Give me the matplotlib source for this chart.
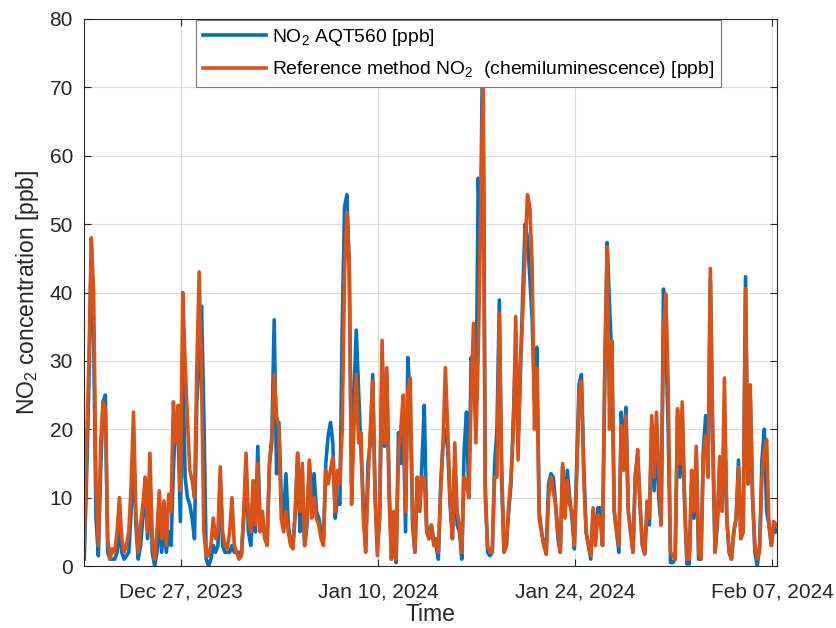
import matplotlib
matplotlib.use("Agg")
from matplotlib import pyplot as plt
import matplotlib.dates as mdates
import pandas as pd

# 4-hourly values
ref_no2 = [3, 18, 30, 48, 40, 12, 3, 18, 24, 23,
           4, 1, 2.5, 2, 5, 10, 4, 2, 3, 5,
           12, 22.5, 8, 2, 6, 9, 13, 5, 16.5, 4,
           1, 5, 11, 4, 9.5, 3, 10.5, 8, 24, 18,
           23.5, 11, 40, 30, 21.5, 14, 12.5, 10, 29, 43,
           28, 5, 1.5, 1.5, 3, 7, 4, 5, 14.5, 5,
           3, 2.5, 5, 10, 3, 2, 1, 1.5, 8, 16.5,
           7, 5, 12.5, 6, 15, 5, 8, 4, 3, 15,
           18, 28, 22, 20, 7, 5, 8, 5, 3, 2.5,
           8, 16.5, 8, 15, 3, 7, 15.5, 7, 10, 7,
           6, 4, 3, 14, 12, 14, 16, 8, 14, 12,
           20, 43, 51.7, 44.5, 9, 20, 28, 18, 19.5, 7,
           2, 12, 20, 27, 10, 1.5, 8, 33, 18, 29,
           10, 1, 8, 1, 17, 20, 25, 8, 26, 27.5,
           8, 2, 13, 8, 13, 13, 5, 4, 6, 3,
           4, 2, 11, 18, 29, 20, 10, 4, 18, 8,
           6, 2, 13, 12, 10, 25, 35.5, 18, 31, 50,
           70, 10, 3, 2, 2, 13, 13, 37, 15, 2,
           3, 9, 13, 20, 36.5, 15.5, 30, 37, 46, 54.3,
           52.5, 44, 20, 29, 7, 5, 3, 1.7, 10, 13,
           11, 9, 5, 2, 15, 7, 12.5, 9, 8, 3,
           13, 25, 27, 13, 5, 3, 1.5, 8.5, 3, 7.5,
           7, 3, 30, 46.7, 20, 33, 8, 5, 3, 20.5,
           14, 22, 8, 5, 2, 13, 17, 9, 3, 1.7,
           9.5, 7, 22, 13, 22.5, 14, 6, 34, 39.8, 27,
           2, 1.5, 1, 23, 15, 24, 10, 1, 1, 14,
           8, 17.5, 2, 1, 16, 19, 13, 43.5, 20, 2,
           7, 16, 8, 27.5, 7, 2, 1, 5, 7, 14.5,
           4, 5, 40.6, 12, 26.5, 10, 3, 1, 2, 13,
           17, 18.5, 6, 3, 6.5, 6]

aqt_no2 = [1, 13, 27, 47, 33, 7, 1.5, 14, 24, 25,
           2, 1, 1, 1, 2, 6, 2, 1, 1.5, 2,
           8, 18, 6, 1, 3, 7, 12, 4, 13, 2,
           0, 2, 7, 2, 6, 2, 5, 3, 14, 22,
           20, 6.5, 30, 13, 10, 9, 7, 4, 24, 30,
           38, 22, 1, 0, 1, 3, 2, 3, 13, 3,
           2, 2, 2, 3, 2, 2, 2, 1.5, 7, 14,
           5, 3, 8, 5, 17.5, 6, 7, 4, 4, 15,
           19, 36, 13.5, 21, 10, 7, 13.5, 6, 3.5, 3,
           8, 16.5, 5, 10, 3, 6, 15, 10, 13.5, 8,
           7, 5, 4, 15, 19, 21, 18, 7, 10, 9,
           35, 52.5, 54.3, 43.5, 12, 25, 34.5, 25.5, 17, 9,
           3, 15, 18, 28, 11, 3, 7, 31, 17.5, 28,
           12, 1, 6, 0.5, 19.5, 15, 23, 5, 30.5, 24,
           6, 2, 12, 8, 15, 23.5, 6, 4, 6, 4,
           3, 1, 12, 18, 20, 17, 9, 4, 15, 6,
           5, 1, 17, 22.5, 10, 30.5, 28, 20, 56.7, 48,
           82, 12, 2, 1.5, 2, 15, 20, 38.9, 12, 2,
           3, 8, 12, 22, 32, 18, 28, 40, 50, 48,
           42.3, 36, 24, 32, 8, 5, 3, 2, 12, 13.5,
           13, 9, 4, 2, 14.5, 8, 14, 10, 7, 2.5,
           15, 26.5, 28, 15, 5, 3, 1, 8, 4, 8.5,
           8.5, 3, 28, 47.3, 38, 30, 8, 5, 2, 22.5,
           16, 23.2, 8, 5, 2, 13.5, 16, 9, 3, 2,
           8, 6, 21, 11, 20, 10, 6, 40.5, 33, 20,
           0.5, 0.5, 1, 22, 13, 22, 9, 0.3, 0.3, 12,
           7, 16, 1, 1, 17, 22, 13, 42, 18, 2,
           6, 15, 8, 22.5, 7, 2, 1, 5, 7, 15.5,
           4, 5, 42.3, 12, 25, 10, 2, 0, 3, 15.5,
           20, 8, 6, 3, 6, 5]

times = pd.date_range("2023-12-20 03:00", periods=len(ref_no2), freq="4h")
tick_dates = pd.to_datetime(["2023-12-27", "2024-01-10", "2024-01-24", "2024-02-07"])

plt.rcParams['font.family'] = ['Liberation Sans', 'DejaVu Sans']
plt.rcParams['mathtext.fontset'] = 'custom'
plt.rcParams['mathtext.rm'] = 'Liberation Sans'
plt.rcParams['mathtext.it'] = 'Liberation Sans:italic'

dark = '#262626'
fig = plt.figure(figsize=(8.37, 6.28), dpi=100)
ax = fig.add_axes([84/837, 62/628, 693/837, 547/628])

ax.plot(times, aqt_no2, color='#0072BD', lw=2.6, label=r'NO$_\mathrm{2}$ AQT560 [ppb]')
ax.plot(times, ref_no2, color='#D95319', lw=2.6,
        label=r'Reference method NO$_\mathrm{2}$  (chemiluminescence) [ppb]')

ax.set_ylim(0, 80)
ax.set_yticks(range(0, 81, 10))
ax.set_xlim(pd.Timestamp("2023-12-20 02:33"), pd.Timestamp("2024-02-07 08:40"))
ax.set_xticks(tick_dates)
ax.xaxis.set_major_formatter(mdates.DateFormatter('%b %d, %Y'))

ax.grid(True, color='#dcdcdc', lw=0.8)
ax.set_axisbelow(True)
for s in ax.spines.values():
    s.set_color(dark)
    s.set_linewidth(0.8)
ax.tick_params(direction='in', top=True, right=True, length=5, width=0.8,
               colors=dark, labelsize=15)
ax.tick_params(axis='x', pad=12)
ax.tick_params(axis='y', pad=8)

ax.set_xlabel('Time', fontsize=16.5, color=dark, labelpad=1)
ax.set_ylabel(r'NO$_\mathrm{2}$ concentration [ppb]', fontsize=16.5, color=dark, labelpad=6)

leg = ax.legend(loc='upper left', bbox_to_anchor=(196/837, 1 - 20/628),
                bbox_transform=fig.transFigure, borderaxespad=0, fontsize=13.9,
                handlelength=3.3, handletextpad=0.3, borderpad=0.35,
                labelspacing=0.6, fancybox=False, framealpha=1)
leg.get_frame().set_edgecolor('#777777')
leg.get_frame().set_linewidth(0.8)

fig.savefig('out.png', dpi=100)
